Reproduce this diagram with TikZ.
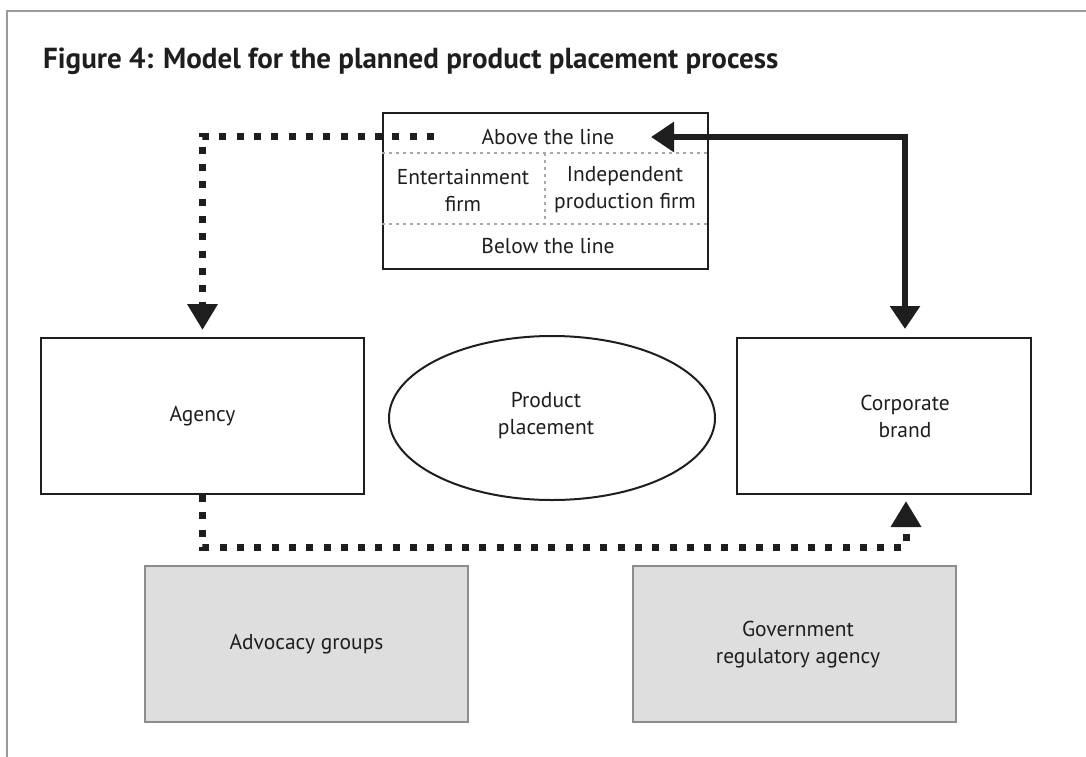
\documentclass[tikz,border=0pt]{standalone}
\usepackage{fontspec}
\usepackage{graphicx}
\setmainfont{PT Sans}
\newfontfamily\titlefont{PT Sans}
\usetikzlibrary{arrows.meta,shapes.geometric}
\definecolor{ink}{HTML}{1E1E1E}
\definecolor{framegray}{HTML}{9A9A9A}
\definecolor{boxgray}{HTML}{DEDEDE}
\definecolor{boxedge}{HTML}{8C8C8C}
\definecolor{dotgray}{HTML}{A8A8A8}
\begin{document}
\begin{tikzpicture}[x=1pt,y=-1pt,
  every node/.style={text=ink,font=\fontsize{21.5}{27}\selectfont,align=center,inner sep=0pt},
  whitebox/.style={draw=ink,line width=2pt,fill=white,minimum width=#1},
  whitebox/.default=323pt,
  graybox/.style={draw=boxedge,line width=2pt,fill=boxgray,minimum width=323pt,minimum height=156pt},
  cellline/.style={draw=dotgray,line width=1.3pt,dash pattern=on 3pt off 4pt},
  dotarrow/.style={draw=ink,line width=7pt,dash pattern=on 7pt off 10.3pt,-{Triangle[length=26pt,width=29pt]}},
  solidarrow/.style={draw=ink,line width=6pt,{Triangle[length=23pt,width=29pt]}-{Triangle[length=23pt,width=29pt]}}
]
\useasboundingbox (0,0) rectangle (1086,756);
% outer frame
\draw[framegray,line width=2pt] (7,760) -- (7,11) -- (1090,11);
% title
\node[anchor=base west,font=\titlefont\bfseries\fontsize{29}{32}\selectfont] (title) at (43,68) {Figure 4: Model for the planned product placement process};
% top box
\node[draw=ink,line width=2pt,fill=white,minimum width=325pt,minimum height=156pt] (top) at (545.5,191) {};
\draw[cellline] (top.west |- 0,153) -- (top.east |- 0,153);
\draw[cellline] (top.west |- 0,224) -- (top.east |- 0,224);
\draw[cellline] (545,153) -- (545,224);
\node (above) at (548,137) {Above the line};
\node (ent) at (463,190) {Entertainment\\firm};
\node (indep) at (625,190) {Independent\\production firm};
\node (below) at (548,246) {Below the line};
% main row
\node[whitebox,minimum height=156pt] (agency) at (202.5,416) {Agency};
\node[draw=ink,line width=2pt,ellipse,minimum width=326pt,minimum height=164pt] (pp) at (552,418) {};
\node (pptext) at (546,416) {Product\\placement};
\node[whitebox=294pt,minimum height=156pt] (brand) at (884,416) {};
\node (brandtext) at (905,416) {Corporate\\brand};
% bottom row
\node[graybox] (adv) at (306.5,644) {Advocacy groups};
\node[graybox] (gov) at (794,644) {};
\node (govtext) at (798,645) {Government\\regulatory agency};
% connectors
\coordinate (dstart) at (434,136);
\draw[dotarrow] (dstart) -| ([yshift=7pt]agency.north);
\coordinate (atl) at (651,137);
\draw[solidarrow] (atl) -| ([xshift=21pt,yshift=8pt]brand.north);
\coordinate (bl) at (202.5,547);
\draw[dotarrow] (agency.south) -- (bl) -| ([xshift=22pt,yshift=-6pt]brand.south);
\end{tikzpicture}
\end{document}
